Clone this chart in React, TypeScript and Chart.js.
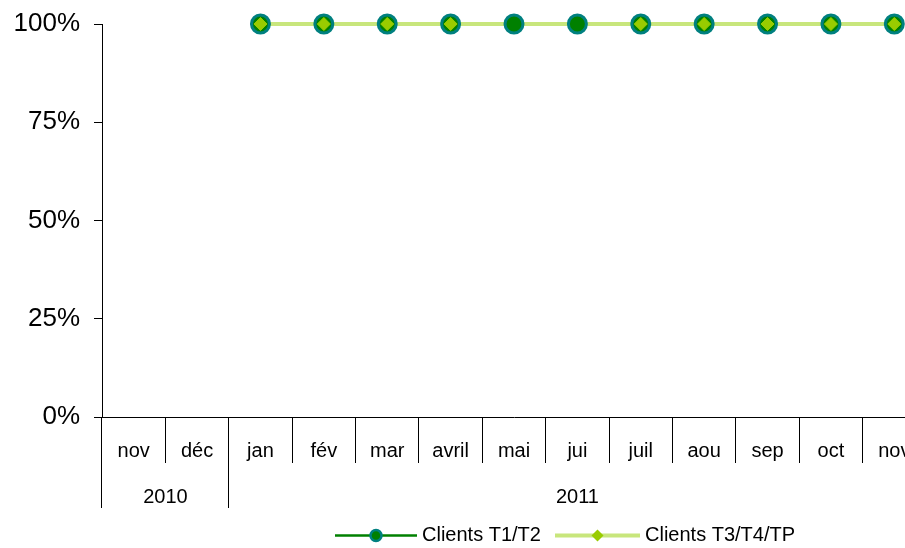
import React, { useEffect, useRef } from "react";
import { Chart, registerables } from "chart.js";

Chart.register(...registerables);

const months = ["nov", "déc", "jan", "fév", "mar", "avril", "mai", "jui", "juil", "aou", "sep", "oct", "nov"];
const yearLabels = ["2010", "2011"];
const yearSpans = [2, 11];
const clientsT1T2 = [null, null, 100, 100, 100, 100, 100, 100, 100, 100, 100, 100, 100];
const clientsT3T4TP = [null, null, 100, 100, 100, 100, null, null, 100, 100, 100, 100, 100];
const yTicks = [0, 25, 50, 75, 100];
const seriesNames = ["Clients T1/T2", "Clients T3/T4/TP"];

const FONT = "'Liberation Sans', Arial, sans-serif";
const DARK_GREEN = "#008000";
const TEAL = "#008080";
const LIME = "#99cc00";
const LIGHT_LINE = "#c8e67c";

const align = (p: number) => Math.round(p - 0.5) + 0.5;

const decorPlugin = {
  id: "decor",
  afterDraw(chart: any) {
    const ctx = chart.ctx;
    const xs = chart.scales.x;
    const area = chart.chartArea;
    const half = (xs.getPixelForValue(1) - xs.getPixelForValue(0)) / 2;
    ctx.save();
    ctx.strokeStyle = "#000";
    ctx.lineWidth = 1;
    // year group separators
    const edges: number[] = [0];
    let acc = 0;
    yearSpans.forEach((s) => {
      acc += s;
      edges.push(acc);
    });
    edges.forEach((e) => {
      const px = align(xs.getPixelForValue(e) - half);
      ctx.beginPath();
      ctx.moveTo(px, area.bottom);
      ctx.lineTo(px, area.bottom + 91);
      ctx.stroke();
    });
    // year labels
    ctx.fillStyle = "#000";
    ctx.font = `20px ${FONT}`;
    ctx.textAlign = "center";
    ctx.textBaseline = "middle";
    for (let i = 0; i < yearLabels.length; i++) {
      const a = xs.getPixelForValue(edges[i]) - half;
      const b = xs.getPixelForValue(edges[i + 1]) - half;
      ctx.fillText(yearLabels[i], (a + b) / 2, area.bottom + 80);
    }
    // legend
    const ly = 535.5;
    const drawItem = (x0: number, x1: number, idx: number) => {
      ctx.beginPath();
      ctx.moveTo(x0, ly);
      ctx.lineTo(x1, ly);
      if (idx === 0) {
        ctx.strokeStyle = DARK_GREEN;
        ctx.lineWidth = 2.5;
      } else {
        ctx.strokeStyle = LIGHT_LINE;
        ctx.lineWidth = 4;
      }
      ctx.stroke();
      const cx = (x0 + x1) / 2;
      if (idx === 0) {
        ctx.beginPath();
        ctx.arc(cx, ly, 5.5, 0, Math.PI * 2);
        ctx.fillStyle = DARK_GREEN;
        ctx.fill();
        ctx.strokeStyle = TEAL;
        ctx.lineWidth = 2.5;
        ctx.stroke();
      } else {
        ctx.beginPath();
        ctx.moveTo(cx - 6, ly);
        ctx.lineTo(cx, ly - 6);
        ctx.lineTo(cx + 6, ly);
        ctx.lineTo(cx, ly + 6);
        ctx.closePath();
        ctx.fillStyle = LIME;
        ctx.fill();
      }
      ctx.fillStyle = "#000";
      ctx.font = `20px ${FONT}`;
      ctx.textAlign = "left";
      ctx.textBaseline = "middle";
      ctx.fillText(seriesNames[idx], x1 + 5, ly);
    };
    drawItem(335, 417, 0);
    drawItem(555, 640, 1);
    ctx.restore();
  },
};

export default function App() {
  const ref = useRef<HTMLCanvasElement | null>(null);
  useEffect(() => {
    if (!ref.current) return;
    const chart = new Chart(ref.current, {
      type: "line",
      data: {
        labels: months,
        datasets: [
          {
            label: seriesNames[0],
            data: clientsT1T2,
            borderColor: DARK_GREEN,
            borderWidth: 3,
            pointRadius: 0,
            order: 4,
            clip: false,
          },
          {
            label: seriesNames[1],
            data: clientsT3T4TP,
            borderColor: LIGHT_LINE,
            borderWidth: 4,
            pointRadius: 0,
            spanGaps: true,
            order: 3,
            clip: false,
          },
          {
            label: seriesNames[0] + " points",
            data: clientsT1T2,
            showLine: false,
            pointStyle: "circle",
            pointRadius: 9,
            pointBackgroundColor: DARK_GREEN,
            pointBorderColor: TEAL,
            pointBorderWidth: 3,
            order: 2,
            clip: false,
          },
          {
            label: seriesNames[1] + " points",
            data: clientsT3T4TP,
            showLine: false,
            pointStyle: "rectRot",
            pointRadius: 6.5,
            pointBackgroundColor: LIME,
            pointBorderColor: LIME,
            pointBorderWidth: 1,
            order: 1,
            clip: false,
          },
        ] as any,
      },
      options: {
        animation: false,
        responsive: false,
        layout: { padding: { top: 24, right: 14, bottom: 0, left: 0 } },
        plugins: { legend: { display: false }, tooltip: { enabled: false } },
        scales: {
          x: {
            type: "category",
            offset: true,
            grid: {
              offset: true,
              drawOnChartArea: false,
              drawTicks: true,
              tickLength: 46,
              color: "#000",
            },
            border: { color: "#000", width: 1 },
            ticks: {
              color: "#000",
              font: { family: FONT, size: 20 },
              padding: -24,
              maxRotation: 0,
              autoSkip: false,
            },
            afterFit: (s: any) => {
              s.height = 131;
              s.paddingLeft = 0;
              s.paddingRight = 0;
            },
          },
          y: {
            min: 0,
            max: 100,
            afterBuildTicks: (s: any) => {
              s.ticks = yTicks.map((v) => ({ value: v }));
            },
            grid: {
              drawOnChartArea: false,
              drawTicks: true,
              tickLength: 8,
              color: "#000",
            },
            border: { color: "#000", width: 1 },
            ticks: {
              color: "#000",
              font: { family: FONT, size: 26 },
              padding: 14,
              callback: (v: any) => v + "%",
            },
            afterFit: (s: any) => {
              s.width = 102;
              s.paddingTop = 0;
              s.paddingBottom = 0;
            },
          },
        },
      },
      plugins: [decorPlugin],
    });
    return () => chart.destroy();
  }, []);
  return (
    <div style={{ position: "fixed", left: 0, top: 0, width: 905, height: 548, overflow: "hidden", background: "#fff" }}>
      <canvas ref={ref} width={940} height={548} style={{ width: 940, height: 548, display: "block" }} />
    </div>
  );
}
